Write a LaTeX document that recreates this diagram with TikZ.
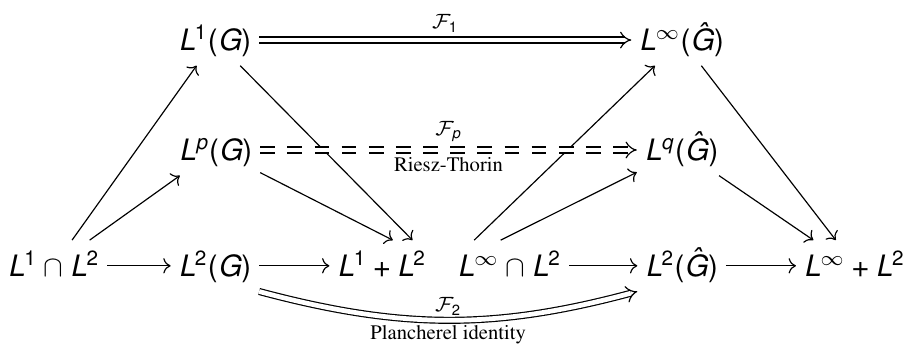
\documentclass[tikz,border=0pt]{standalone}
\usepackage[T1]{fontenc}
\usepackage{amsmath,amssymb}
\usepackage{times}
\usepackage{sansmath}
\usepackage{tikz}
\usetikzlibrary{arrows,arrows.meta}
\usetikzlibrary{calc}
\tikzstyle{sp} = [anchor=base, inner sep=2.5pt, text height=9.5pt, text depth=2.5pt]
\tikzstyle{lab} = [font=\scriptsize, inner sep=2.5pt]
\tikzstyle{ar} = [-{Computer Modern Rightarrow}]
\tikzstyle{dar} = [double, double distance=1.6pt, -{Implies}]

\begin{document}
\begin{tikzpicture}[font=\normalsize]
	\sansmath
	\useasboundingbox (0,0) rectangle (10.83,4.10);
	% bottom row
	\draw (0.64,0.81) node[sp](int1){$L^1\cap L^2$};
	\draw (2.56,0.81) node[sp](l2g){$L^2(G)$};
	\draw (4.55,0.81) node[sp](sum1){$L^1+L^2$};
	\draw (6.07,0.81) node[sp](int2){$L^\infty\cap L^2$};
	\draw (8.12,0.81) node[sp](l2hat){$L^2(\hat{G})$};
	\draw (10.18,0.81) node[sp](sum2){$L^\infty+L^2$};
	% middle and top rows
	\draw (2.57,2.19) node[sp](lp){$L^p(G)$};
	\draw (8.12,2.19) node[sp](lq){$L^q(\hat{G})$};
	\draw (2.56,3.50) node[sp](l1g){$L^1(G)$};
	\draw (8.12,3.50) node[sp](linf){$L^\infty(\hat{G})$};
	\foreach \from/\to in {int1/l2g,l2g/sum1,int2/l2hat,l2hat/sum2,int1/l1g,int1/lp,
		l1g/sum1.40,lp/sum1.67,int2.144/linf,int2.109/lq,linf/sum2.126,lq/sum2.148}
	\draw[ar] (\from) -- (\to);
	% Fourier transforms
	\draw[dar] (l1g) -- (linf) node[midway,above,lab]{$\mathcal{F}_1$};
	\draw[dar, dash pattern=on 5pt off 4.2pt] (lp) -- (lq)
		node[midway,above,lab]{$\mathcal{F}_p$}
		node[midway,below,lab]{Riesz-Thorin};
	\draw[dar] (l2g.south east) to[bend right=15]
		node[midway,above,lab,inner sep=1.5pt]{$\mathcal{F}_2$}
		node[midway,below,lab,inner sep=1.5pt]{Plancherel identity} (l2hat.south west);
\end{tikzpicture}
\end{document}
